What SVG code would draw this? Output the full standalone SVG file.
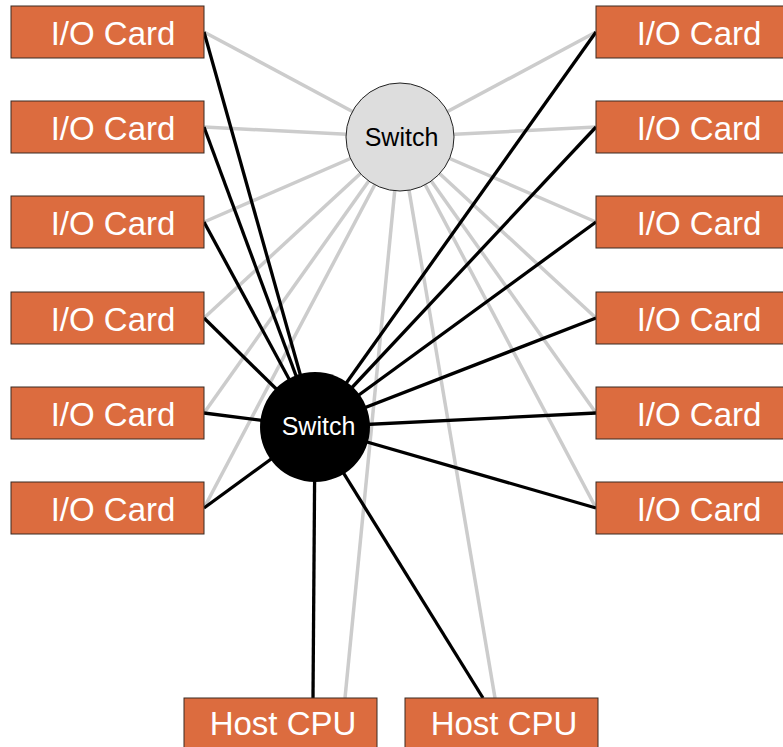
<svg xmlns="http://www.w3.org/2000/svg" width="783" height="747" viewBox="0 0 783 747">
<style>
.card rect{fill:#DC6C3F;stroke:#3a2a22;stroke-width:1}
.card text{fill:#fff;font-family:"Liberation Sans",Arial,sans-serif;font-size:33px;text-anchor:middle}
.g{stroke:#cccccc;stroke-width:3.5;fill:none}
.b{stroke:#000;stroke-width:3.3;fill:none}
.sw text{font-family:"Liberation Sans",Arial,sans-serif;font-size:25px;text-anchor:middle}
</style>
<rect width="783" height="747" fill="#fff"/>
<g id="connectors">
<g class="g">
<line x1="204" y1="32" x2="400" y2="137"/>
<line x1="204" y1="127" x2="400" y2="137"/>
<line x1="204" y1="222" x2="400" y2="137"/>
<line x1="204" y1="318" x2="400" y2="137"/>
<line x1="204" y1="413" x2="400" y2="137"/>
<line x1="204" y1="508" x2="400" y2="137"/>
<line x1="596" y1="32" x2="400" y2="137"/>
<line x1="596" y1="127" x2="400" y2="137"/>
<line x1="596" y1="222" x2="400" y2="137"/>
<line x1="596" y1="318" x2="400" y2="137"/>
<line x1="596" y1="413" x2="400" y2="137"/>
<line x1="596" y1="508" x2="400" y2="137"/>
<line x1="345" y1="698" x2="400" y2="137"/>
<line x1="495" y1="698" x2="400" y2="137"/>
</g>
<g class="b">
<line x1="204" y1="32" x2="315" y2="427"/>
<line x1="204" y1="127" x2="315" y2="427"/>
<line x1="204" y1="222" x2="315" y2="427"/>
<line x1="204" y1="318" x2="315" y2="427"/>
<line x1="204" y1="413" x2="315" y2="427"/>
<line x1="204" y1="508" x2="315" y2="427"/>
<line x1="596" y1="32" x2="315" y2="427"/>
<line x1="596" y1="127" x2="315" y2="427"/>
<line x1="596" y1="222" x2="315" y2="427"/>
<line x1="596" y1="318" x2="315" y2="427"/>
<line x1="596" y1="413" x2="315" y2="427"/>
<line x1="596" y1="508" x2="315" y2="427"/>
<line x1="313" y1="698" x2="315" y2="427"/>
<line x1="483" y1="698" x2="315" y2="427"/>
</g>
</g>
<g id="switch-top" class="sw">
<circle cx="400" cy="137" r="54" fill="#dddddd" stroke="#222" stroke-width="1"/>
<text x="401.5" y="146" fill="#000">Switch</text>
</g>
<g id="switch-main" class="sw">
<circle cx="315" cy="427" r="55" fill="#000"/>
<text x="318.5" y="435" fill="#fff">Switch</text>
</g>
<g id="card-l1" class="card"><rect x="11" y="6" width="193" height="52"/><text x="113" y="45">I/O Card</text></g>
<g id="card-l2" class="card"><rect x="11" y="101" width="193" height="52"/><text x="113" y="140">I/O Card</text></g>
<g id="card-l3" class="card"><rect x="11" y="196" width="193" height="52"/><text x="113" y="235">I/O Card</text></g>
<g id="card-l4" class="card"><rect x="11" y="292" width="193" height="52"/><text x="113" y="331">I/O Card</text></g>
<g id="card-l5" class="card"><rect x="11" y="387" width="193" height="52"/><text x="113" y="426">I/O Card</text></g>
<g id="card-l6" class="card"><rect x="11" y="482" width="193" height="52"/><text x="113" y="521">I/O Card</text></g>
<g id="card-r1" class="card"><rect x="596" y="6" width="193" height="52"/><text x="699" y="45">I/O Card</text></g>
<g id="card-r2" class="card"><rect x="596" y="101" width="193" height="52"/><text x="699" y="140">I/O Card</text></g>
<g id="card-r3" class="card"><rect x="596" y="196" width="193" height="52"/><text x="699" y="235">I/O Card</text></g>
<g id="card-r4" class="card"><rect x="596" y="292" width="193" height="52"/><text x="699" y="331">I/O Card</text></g>
<g id="card-r5" class="card"><rect x="596" y="387" width="193" height="52"/><text x="699" y="426">I/O Card</text></g>
<g id="card-r6" class="card"><rect x="596" y="482" width="193" height="52"/><text x="699" y="521">I/O Card</text></g>
<g id="host-1" class="card"><rect x="184" y="698" width="193" height="52"/><text x="283" y="735">Host CPU</text></g>
<g id="host-2" class="card"><rect x="405" y="698" width="193" height="52"/><text x="504" y="735">Host CPU</text></g>
</svg>
